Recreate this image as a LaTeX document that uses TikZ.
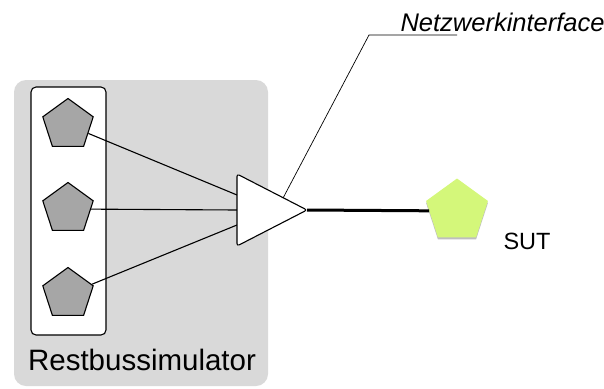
\documentclass[tikz,border=0pt]{standalone}
\usepackage{fontspec}
\setmainfont{Liberation Sans}
\usetikzlibrary{shapes.geometric,shadows,calc}
\definecolor{panelgray}{HTML}{D9D9D9}
\definecolor{nodegray}{HTML}{A6A6A6}
\definecolor{sutgreen}{HTML}{D4F77A}
\tikzset{
  ecu/.style={regular polygon, regular polygon sides=5, minimum size=53pt,
    inner sep=0pt, fill=nodegray, draw=black, line width=1.1pt},
  sutnode/.style={regular polygon, regular polygon sides=5, minimum size=65pt,
    inner sep=0pt, fill=sutgreen, draw=none,
    drop shadow={shadow xshift=0pt, shadow yshift=-2pt, opacity=0.25, fill=black}},
  link/.style={draw=black, line width=1.1pt},
}
\begin{document}
\begin{tikzpicture}[x=1pt,y=-1pt]
  \useasboundingbox (0,0) rectangle (604,388);
  % simulator panel
  \fill[panelgray, rounded corners=12pt] (14,80) rectangle (268,386);
  \node[anchor=base, font=\fontsize{29.5}{32}\selectfont] (rbsl) at (142,370) {Restbussimulator};
  % node group frame
  \draw[fill=white, line width=1.1pt, rounded corners=5pt] (31,87) rectangle (106,335);
  % simulated nodes
  \node[ecu] (e1) at (68,125) {};
  \node[ecu] (e2) at (68,209) {};
  \node[ecu] (e3) at (68,294) {};
  % network interface
  \coordinate (tl) at (237,174);
  \coordinate (bl) at (237,246);
  \coordinate (tip) at (307,210);
  \coordinate (in1) at (237,195);
  \coordinate (in2) at (237,210);
  \coordinate (in3) at (237,225);
  \draw[link] (e1) -- (in1);
  \draw[link] (e2) -- (in2);
  \draw[link] (e3) -- (in3);
  \draw[fill=white, line width=1.1pt, rounded corners=2.5pt]
    (tl) -- (tip) -- (bl) -- cycle;
  % system under test
  \node[sutnode] (sut) at (457,211) {};
  \draw[line width=3pt] (tip) -- (sut);
  \node[anchor=base west, font=\fontsize{23.5}{26}\selectfont] (sutl) at (500,249) {SUT};
  % callout
  \coordinate (ck) at (369,35);
  \coordinate (ce) at (457,35);
  \coordinate (cp) at ($(tl)!0.66!(tip)$);
  \draw[line width=0.7pt] (ce) -- (ck) -- (cp);
  \node[anchor=base west, font=\itshape\fontsize{25.5}{28}\selectfont] (nil) at (397,31) {Netzwerkinterface};
\end{tikzpicture}
\end{document}
